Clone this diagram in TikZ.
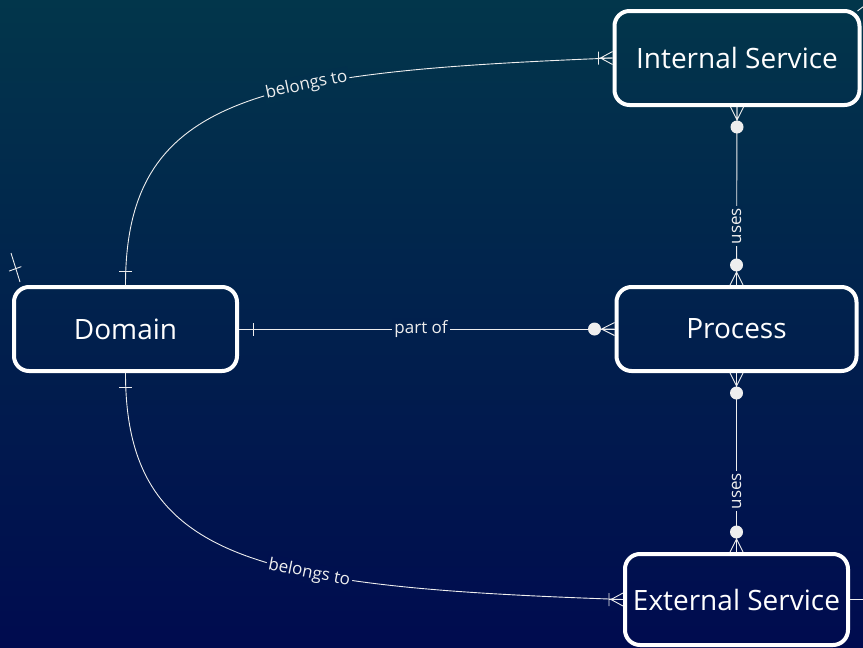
\documentclass[tikz,border=0pt]{standalone}
\usepackage{fontspec}
\setmainfont{Open Sans}
\usepackage{xcolor}
\usepackage{tikz}
\definecolor{bgtop}{HTML}{02364B}
\definecolor{bgbot}{HTML}{000B4F}
\definecolor{fg}{HTML}{FFFFFF}
\definecolor{rel}{HTML}{EEEEEE}
\tikzset{
  entity/.style={draw=fg, line width=4pt, rounded corners=15pt, text=fg, inner sep=0pt, font=\fontsize{28}{33}\selectfont},
  relline/.style={draw=rel, line width=0.9pt},
  lab/.style={text=rel, font=\fontsize{17}{20}\selectfont, inner sep=2pt},
  pics/one/.style={code={\draw[relline] (14,-6.5) -- (14,6.5);}},
  pics/onemany/.style={code={\draw[relline] (0,-6.5) -- (12,0) -- (0,6.5) (0,0) -- (14,0) (14,-6.5) -- (14,6.5);}},
  pics/zeromany/.style={code={\draw[relline] (0,-6.5) -- (13,0) -- (0,6.5) (0,0) -- (13,0); \fill[rel] (20,0) circle (6.5);}},
}
\begin{document}
\begin{tikzpicture}[x=1pt, y=1pt]
  \shade[top color=bgtop, bottom color=bgbot] (0,0) rectangle (863,-648);
  \useasboundingbox (0,0) rectangle (863,-648);
  \clip (0,0) rectangle (863,-648);
  % entities
  \node[entity, minimum width=245pt, minimum height=94pt] (internal) at (737,-58) {Internal Service};
  \node[entity, minimum width=223pt, minimum height=84pt] (domain) at (125.5,-329) {Domain};
  \node[entity, minimum width=240pt, minimum height=84pt] (process) at (736.5,-329) {Process};
  \node[entity, minimum width=223pt, minimum height=91pt] (external) at (736.5,-599.5) {External Service};
  % relations
  \draw[relline] (domain.north) .. controls (125.5,-95) and (260,-72) .. (internal.west)
    node[lab, pos=0.63, sloped, fill=bgbot!13!bgtop] {belongs to};
  \draw[relline] (domain.south) .. controls (125.5,-563) and (260,-587) .. (external.west)
    node[lab, pos=0.63, sloped, fill=bgbot!89!bgtop] {belongs to};
  \draw[relline] (domain.east) -- (process.west) node[lab, pos=0.485, fill=bgbot!51!bgtop] {part of};
  \draw[relline] (internal.south) -- (process.north) node[lab, pos=0.67, rotate=90, fill=bgbot!35!bgtop] {uses};
  \draw[relline] (process.south) -- (external.north) node[lab, pos=0.66, rotate=90, fill=bgbot!76!bgtop] {uses};
  % ends
  \pic[rotate=90] at (domain.north) {one};
  \pic[rotate=180] at (internal.west) {onemany};
  \pic at (domain.east) {one};
  \pic[rotate=180] at (process.west) {zeromany};
  \pic[rotate=-90] at (internal.south) {zeromany};
  \pic[rotate=90] at (process.north) {zeromany};
  \pic[rotate=-90] at (process.south) {zeromany};
  \pic[rotate=90] at (external.north) {zeromany};
  \pic[rotate=-90] at (domain.south) {one};
  \pic[rotate=180] at (external.west) {onemany};
  % relations leaving the view
  \coordinate (farNW) at (11,-253);
  \coordinate (farNE) at (880,6);
  \coordinate (farE) at (900,-599.5);
  \draw[relline] ([xshift=8pt,yshift=3pt]domain.north west) -- (farNW);
  \pic[rotate=110] at ([xshift=8pt,yshift=3pt]domain.north west) {one};
  \draw[relline] ([xshift=-4pt,yshift=-2pt]internal.north east) -- (farNE);
  \draw[relline] (external.east) -- (farE);
  \pic at (external.east) {one};
\end{tikzpicture}
\end{document}
